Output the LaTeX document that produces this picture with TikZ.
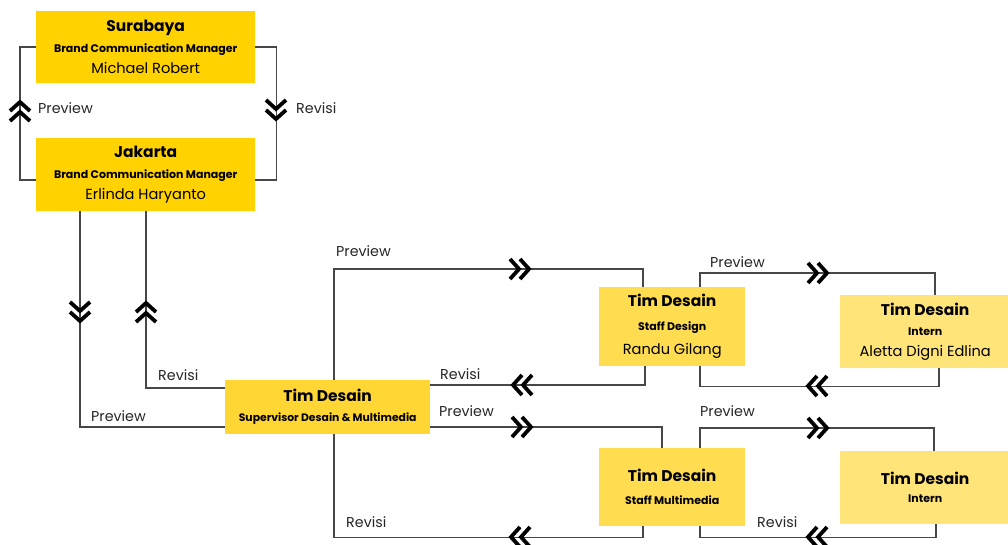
\documentclass[tikz,border=0pt]{standalone}
\usepackage{fontspec}
\setmainfont{Poppins}
\definecolor{ybright}{HTML}{FFD200}
\definecolor{ysup}{HTML}{FFD633}
\definecolor{ystaff}{HTML}{FFDC50}
\definecolor{yintern}{HTML}{FFE47A}
\definecolor{lineg}{HTML}{474747}
\begin{document}
\begin{tikzpicture}[x=1pt,y=-1pt,
  box/.style={rectangle, inner sep=0pt, anchor=north west, align=center, text=black},
  conn/.style={draw=lineg, line width=1.6pt},
  lbl/.style={anchor=west, inner sep=0pt, font=\fontsize{14.3}{16}\selectfont, text=black!85},
  chev/.pic={\draw[line width=3.8pt, black] (-10,-10)--(-1,0)--(-10,10) (0,-10)--(9,0)--(0,10);}
]
\useasboundingbox (0,0) rectangle (1008,544);
\clip (0,0) rectangle (1008,544);

% boxes
\node[box, fill=ybright, minimum width=219pt, minimum height=72pt, font=\fontsize{14.6}{21}\selectfont] (sur) at (36,11)
  {{\fontsize{15.5}{21}\selectfont\bfseries Surabaya}\\{\fontsize{11}{21}\selectfont\bfseries Brand Communication Manager}\\{Michael Robert}};
\node[box, fill=ybright, minimum width=219pt, minimum height=73pt, font=\fontsize{14.6}{21}\selectfont] (jak) at (36,138)
  {{\fontsize{15.5}{21}\selectfont\bfseries Jakarta}\\{\fontsize{11}{21}\selectfont\bfseries Brand Communication Manager}\\{Erlinda Haryanto}};
\node[box, fill=ysup, minimum width=205pt, minimum height=54pt, font=\fontsize{14.6}{20}\selectfont] (sup) at (225,380)
  {{\fontsize{15.5}{20}\selectfont\bfseries Tim Desain}\\{\fontsize{10.8}{20}\selectfont\bfseries Supervisor Desain \& Multimedia}};
\node[box, fill=ystaff, minimum width=146pt, minimum height=79pt, font=\fontsize{14.6}{24}\selectfont] (staff) at (599,287)
  {{\fontsize{15.5}{24}\selectfont\bfseries Tim Desain}\\{\fontsize{11}{24}\selectfont\bfseries Staff Design}\\{Randu Gilang}};
\node[box, fill=yintern, minimum width=170pt, minimum height=73pt, font=\fontsize{14.6}{20.5}\selectfont] (intern) at (840,295)
  {{\fontsize{15.5}{20.5}\selectfont\bfseries Tim Desain}\\{\fontsize{11}{20.5}\selectfont\bfseries Intern}\\{Aletta Digni Edlina}};
\node[box, fill=ystaff, minimum width=146pt, minimum height=78pt, font=\fontsize{14.6}{23}\selectfont] (multi) at (599,448)
  {{\fontsize{15.5}{23}\selectfont\bfseries Tim Desain}\\{\fontsize{11}{23}\selectfont\bfseries Staff Multimedia}};
\node[box, fill=yintern, minimum width=170pt, minimum height=73pt, font=\fontsize{14.6}{18}\selectfont] (intern2) at (840,451)
  {{\fontsize{15.5}{18}\selectfont\bfseries Tim Desain}\\{\fontsize{11}{18}\selectfont\bfseries Intern}};

% connectors
\draw[conn] ([yshift=-5.5pt]jak.west) -- ++(-16,0) |- (sur.west);
\draw[conn] (sur.east) -- ++(21,0) |- ([yshift=-5.5pt]jak.east);
\draw[conn] ([xshift=-65.5pt]jak.south) |- ([yshift=-20pt]sup.west);
\draw[conn] ([xshift=0.5pt]jak.south) |- ([yshift=19pt]sup.west);
\draw[conn] ([xshift=6.5pt]sup.north) -- ++(0,-111) -| ([xshift=-29pt]staff.north);
\draw[conn] ([xshift=-27pt]staff.south) |- ([yshift=22pt]sup.east);
\draw[conn] ([xshift=28pt]staff.north) -- ++(0,-14) -| ([xshift=10pt]intern.north);
\draw[conn] ([xshift=14pt]intern.south) -- ++(0,18) -| ([xshift=28pt]staff.south);
\draw[conn] ([yshift=-20pt]sup.east) -| ([xshift=-10pt]multi.north);
\draw[conn] ([xshift=-29pt]multi.south) -- ++(0,11) -| ([xshift=6.5pt]sup.south);
\draw[conn] ([xshift=28pt]multi.north) -- ++(0,-20) -| ([xshift=9pt]intern2.north);
\draw[conn] ([xshift=11pt]intern2.south) -- ++(0,13) -| ([xshift=28pt]multi.south);

% chevrons
\pic[rotate=90] at (20,111) {chev};
\pic[rotate=-90] at (276,110) {chev};
\pic[rotate=-90] at (80,312) {chev};
\pic[rotate=90] at (146,312) {chev};
\pic at (520,269) {chev};
\pic[rotate=180] at (522,385) {chev};
\pic at (818,273) {chev};
\pic[rotate=180] at (817,386) {chev};
\pic at (522,427) {chev};
\pic[rotate=180] at (520,537) {chev};
\pic at (818,428) {chev};
\pic[rotate=180] at (817,537) {chev};

% labels
\node[lbl] (l1) at (38,108) {Preview};
\node[lbl] (l2) at (296,108) {Revisi};
\node[lbl] (l3) at (91,416) {Preview};
\node[lbl] (l4) at (158,375) {Revisi};
\node[lbl] (l5) at (336,251) {Preview};
\node[lbl] (l6) at (440,374) {Revisi};
\node[lbl] (l7) at (710,262) {Preview};
\node[lbl] (l8) at (439,411) {Preview};
\node[lbl] (l9) at (346,522) {Revisi};
\node[lbl] (l10) at (700,411) {Preview};
\node[lbl] (l11) at (757,522) {Revisi};
\end{tikzpicture}
\end{document}
